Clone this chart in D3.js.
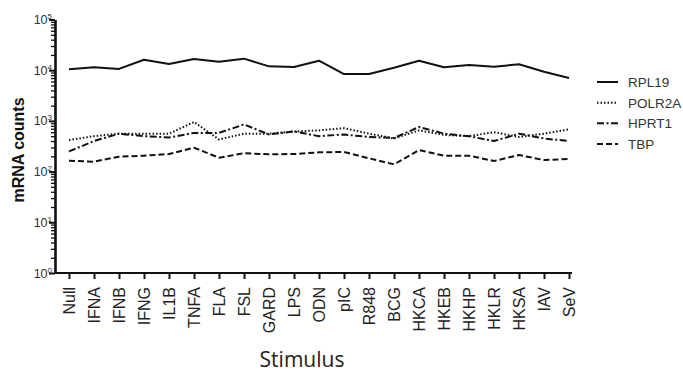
<!DOCTYPE html>
<html>
<head>
<meta charset="utf-8">
<script src="https://cdn.jsdelivr.net/npm/d3@7"></script>
<style>
  html, body { margin: 0; padding: 0; background: #fff; }
  svg { display: block; }
</style>
</head>
<body>
<svg id="chart" width="683" height="374"></svg>
<script>
const categories = ["Null","IFNA","IFNB","IFNG","IL1B","TNFA","FLA","FSL","GARD","LPS","ODN","pIC","R848","BCG","HKCA","HKEB","HKHP","HKLR","HKSA","IAV","SeV"];
const RPL19  = [10400,11400,10600,16100,13300,16600,14700,16900,11900,11600,15400,8400,8400,11200,15400,11400,12700,11700,13100,9300,7000];
const POLR2A = [420,500,560,560,560,950,430,560,560,620,650,720,560,450,650,530,500,600,480,560,680];
const HPRT1  = [250,400,560,500,470,580,580,850,540,620,500,540,480,460,760,560,500,400,560,450,400];
const TBP    = [164,157,197,206,222,296,188,230,219,222,240,244,183,139,267,206,206,162,212,169,177];
const seriesNames = ["RPL19","POLR2A","HPRT1","TBP"];
const seriesValues = [RPL19, POLR2A, HPRT1, TBP];
const yTicks = [1,10,100,1000,10000,100000];
const yTickExp = ["0","1","2","3","4","5"];

(function () {
const dashes = {"RPL19": null, "POLR2A": "1.5,2", "HPRT1": "7,2.5,2,2.5", "TBP": "6,3"};

const svg = d3.select("#chart");
const mLeft = 55, mRight = 572, mTop = 19.5, mBottom = 273;

const x = d3.scalePoint().domain(categories).range([69, 569]);
const y = d3.scaleLog().domain([1, 100000]).range([mBottom, mTop]);

// minor ticks on y
const minor = [];
for (let e = 0; e < 5; e++) for (let m = 2; m <= 9; m++) minor.push(m * Math.pow(10, e));
svg.append("g").attr("transform", `translate(${mLeft},0)`)
  .call(d3.axisLeft(y).tickValues(minor).tickSize(4).tickFormat(""))
  .call(g => g.select(".domain").remove())
  .call(g => g.selectAll("line").attr("stroke", "#111").attr("stroke-width", 1.3));

// major y axis
const yAxis = svg.append("g").attr("transform", `translate(${mLeft},0)`)
  .call(d3.axisLeft(y).tickValues(yTicks).tickSize(6).tickSizeOuter(0).tickFormat(""));
yAxis.select(".domain").attr("stroke", "#111").attr("stroke-width", 2.6);
yAxis.selectAll("line").attr("stroke", "#111").attr("stroke-width", 2);

yTicks.forEach((v, i) => {
  const t = svg.append("text")
    .attr("x", mLeft - 3).attr("y", y(v) + 4.5)
    .attr("text-anchor", "end")
    .attr("font-family", "Liberation Sans, Arial, sans-serif")
    .attr("font-size", 12.5).attr("fill", "#333");
  t.append("tspan").text("10");
  t.append("tspan").attr("font-size", 8).attr("dy", -5).text(yTickExp[i]);
});

// x axis
const xAxis = svg.append("g").attr("transform", `translate(0,${mBottom})`)
  .call(d3.axisBottom(x).tickSize(6).tickSizeOuter(0).tickPadding(8));
xAxis.select(".domain").attr("d", `M${mLeft},0H${mRight}`).attr("stroke", "#111").attr("stroke-width", 2.2);
xAxis.selectAll(".tick line").attr("stroke", "#111").attr("stroke-width", 2);
xAxis.selectAll(".tick text")
  .attr("font-family", "Liberation Sans, Arial, sans-serif")
  .attr("font-size", 16).attr("fill", "#222")
  .attr("transform", "rotate(-90)")
  .attr("text-anchor", "end")
  .attr("x", -14).attr("y", 0).attr("dy", "0.35em");

// lines
const line = d3.line().x((d, i) => x(categories[i])).y(d => y(d));
seriesNames.forEach((name, k) => {
  svg.append("path")
    .datum(seriesValues[k])
    .attr("d", line)
    .attr("fill", "none")
    .attr("stroke", "#111")
    .attr("stroke-width", 2)
    .attr("stroke-linejoin", "round")
    .attr("stroke-dasharray", dashes[name]);
});

// legend
const legY = d3.scalePoint().domain(seriesNames).range([82, 144]);
seriesNames.forEach(name => {
  const ly = legY(name);
  svg.append("line").attr("x1", 597).attr("x2", 618).attr("y1", ly).attr("y2", ly)
    .attr("stroke", "#111").attr("stroke-width", 2).attr("stroke-dasharray", dashes[name]);
  svg.append("text").attr("x", 628).attr("y", ly + 5)
    .attr("font-family", "Liberation Sans, Arial, sans-serif")
    .attr("font-size", 13.5).attr("fill", "#333").text(name);
});

// axis titles
svg.append("text")
  .attr("transform", `translate(24,150) rotate(-90)`)
  .attr("text-anchor", "middle")
  .attr("font-family", "Liberation Sans, Arial, sans-serif")
  .attr("font-weight", "bold").attr("font-size", 16).attr("fill", "#111")
  .text("mRNA counts");

svg.append("text")
  .attr("x", 302).attr("y", 367)
  .attr("text-anchor", "middle")
  .attr("font-family", "Open Sans, sans-serif")
  .attr("font-size", 21).attr("fill", "#222")
  .text("Stimulus");
})();
</script>
</body>
</html>
